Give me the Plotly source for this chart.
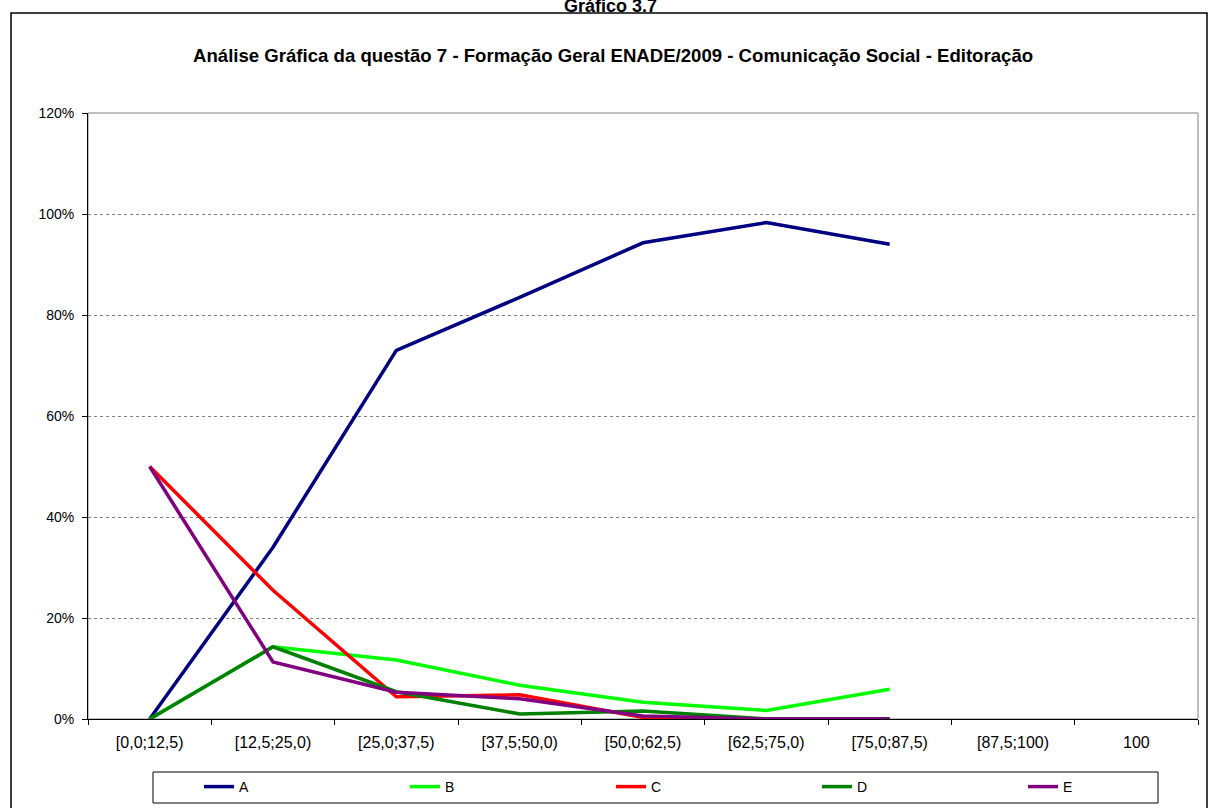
import plotly.graph_objects as go

categories = ["[0,0;12,5)", "[12,5;25,0)", "[25,0;37,5)", "[37,5;50,0)", "[50,0;62,5)",
              "[62,5;75,0)", "[75,0;87,5)", "[87,5;100)", "100"]
series_names = ["A", "B", "C", "D", "E"]
A = [0.0, 34.0, 73.0, 83.5, 94.3, 98.3, 94.0]
B = [0.0, 14.3, 11.7, 6.7, 3.3, 1.7, 5.9]
C = [50.0, 25.5, 4.4, 4.8, 0.3, 0.0, 0.0]
D = [0.0, 14.3, 5.4, 1.0, 1.6, 0.0, 0.0]
E = [50.0, 11.3, 5.3, 4.0, 0.6, 0.0, 0.0]
y_ticks = [0, 20, 40, 60, 80, 100, 120]
colors = ["#000080", "#00FF00", "#FF0000", "#008000", "#800080"]

W, H = 1208, 808
L, R, T, Bm = 88, 10, 113, 89
pw, ph = W - L - R, H - T - Bm

def px_x(p):
    return (p - L) / pw

def px_y(p):
    return (H - Bm - p) / ph

fig = go.Figure()
for name, vals, col in zip(series_names, [A, B, C, D, E], colors):
    fig.add_trace(go.Scatter(
        x=categories[:len(vals)], y=vals, mode="lines", name=name,
        line=dict(color=col, width=3.5),
    ))

font_family = "Liberation Sans, Arial, sans-serif"

fig.update_layout(
    width=W, height=H,
    margin=dict(l=L, r=R, t=T, b=Bm, autoexpand=False),
    paper_bgcolor="white", plot_bgcolor="white",
    font=dict(family=font_family, size=14, color="black"),
    showlegend=True,
    legend=dict(
        orientation="h", xref="container", yref="container",
        x=199 / W, y=1 - 771 / H, xanchor="left", yanchor="top",
        entrywidth=161, entrywidthmode="pixels",
        font=dict(size=14, family=font_family), bgcolor="rgba(0,0,0,0)",
        itemwidth=30,
    ),
    xaxis=dict(
        type="category", categoryorder="array", categoryarray=categories,
        range=[-0.5, len(categories) - 0.5],
        tickson="boundaries", ticks="outside", ticklen=5, tickcolor="black",
        showline=True, linecolor="black", linewidth=1,
        showgrid=False, zeroline=False, ticklabelstandoff=9,
        tickfont=dict(size=16),
    ),
    yaxis=dict(
        range=[0, 120], tickvals=y_ticks, ticktext=[f"{v}%" for v in y_ticks],
        ticks="outside", ticklen=5, tickcolor="black",
        showline=True, linecolor="black", linewidth=1,
        showgrid=True, gridcolor="#808080", griddash="dot", gridwidth=1,
        zeroline=False, ticklabelstandoff=5, tickfont=dict(size=14),
    ),
    shapes=[
        dict(type="rect", xref="paper", yref="paper", x0=0, x1=1, y0=0, y1=1,
             line=dict(color="#808080", width=1), layer="below"),
        dict(type="rect", xref="paper", yref="paper",
             x0=px_x(11), x1=px_x(1207), y0=px_y(812), y1=px_y(13),
             line=dict(color="black", width=1.5)),
        dict(type="rect", xref="paper", yref="paper",
             x0=px_x(153), x1=px_x(1158), y0=px_y(803), y1=px_y(772),
             line=dict(color="black", width=1)),
    ],
    annotations=[
        dict(text="<b>Gráfico 3.7</b>", xref="paper", yref="paper",
             x=px_x(610), y=px_y(6), xanchor="center", yanchor="middle",
             showarrow=False, font=dict(size=18, family=font_family)),
        dict(text="<b>Análise Gráfica da questão 7 - Formação Geral ENADE/2009 - Comunicação Social - Editoração</b>",
             xref="paper", yref="paper", x=px_x(613), y=px_y(55),
             xanchor="center", yanchor="middle", showarrow=False,
             font=dict(size=18.6, family=font_family)),
    ],
)

fig.write_html("out.html", config={"displayModeBar": False},
               post_script="document.body.style.margin='0px';")
